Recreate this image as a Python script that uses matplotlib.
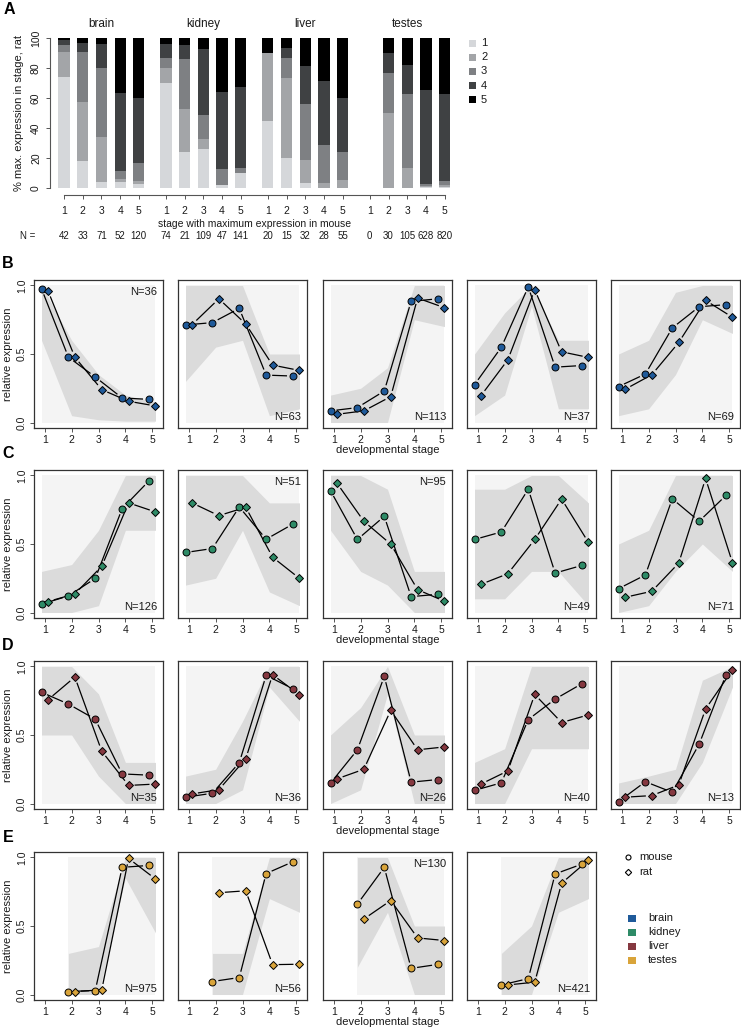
import numpy as np
import matplotlib
matplotlib.use('Agg')
import matplotlib.pyplot as plt
from matplotlib.patches import Rectangle

plt.rcParams['font.family'] = ['Liberation Sans', 'DejaVu Sans']

nan = np.nan

# ── Panel A: % of genes by rat max stage, for each mouse max stage ─────────
tissues = ['brain', 'kidney', 'liver', 'testes']
stage_labels = ['1', '2', '3', '4', '5']
brain_pct = [[73.8, 16.7, 4.7, 3.6, 1.2],
             [18.2, 39.4, 33.3, 6.1, 3.0],
             [4.2, 29.6, 46.5, 15.5, 4.2],
             [3.8, 1.9, 5.8, 51.9, 36.5],
             [2.5, 2.5, 11.7, 43.3, 40.0]]
kidney_pct = [[70.3, 9.5, 6.8, 9.5, 4.1],
              [23.8, 28.6, 33.3, 9.5, 4.8],
              [25.7, 7.3, 15.6, 44.0, 7.3],
              [2.1, 0.0, 10.6, 51.1, 36.2],
              [9.9, 0.0, 3.5, 54.0, 32.6]]
liver_pct = [[45.0, 45.0, 0.0, 0.0, 10.0],
             [20.0, 53.3, 13.3, 6.7, 6.7],
             [3.1, 15.6, 37.5, 25.0, 18.8],
             [0.0, 3.6, 25.0, 42.9, 28.6],
             [0.0, 5.5, 18.2, 36.4, 40.0]]
testes_pct = [[0.0, 0.0, 0.0, 0.0, 0.0],
              [0.0, 50.0, 26.7, 13.3, 10.0],
              [0.0, 13.3, 49.5, 19.0, 18.1],
              [0.5, 1.0, 1.0, 63.1, 34.4],
              [0.6, 1.2, 3.0, 57.8, 37.4]]
bar_n = [42, 33, 71, 52, 120, 74, 21, 109, 47, 141,
         20, 15, 32, 28, 55, 0, 30, 105, 628, 820]

# ── Panels B-E: cluster mean profiles (mouse / rat) ───────────────────────
stages = [1, 2, 3, 4, 5]

brain_mouse = [[0.976, 0.477, 0.332, 0.179, 0.169],
               [0.712, 0.729, 0.833, 0.346, 0.339],
               [0.085, 0.109, 0.230, 0.884, 0.903],
               [0.276, 0.550, 0.990, 0.404, 0.416],
               [0.262, 0.354, 0.690, 0.845, 0.860]]
brain_rat = [[0.961, 0.477, 0.240, 0.155, 0.121],
             [0.714, 0.903, 0.719, 0.419, 0.380],
             [0.060, 0.085, 0.189, 0.908, 0.838],
             [0.196, 0.458, 0.969, 0.516, 0.475],
             [0.242, 0.349, 0.584, 0.891, 0.768]]
brain_n = [36, 63, 113, 37, 69]
brain_npos = ['top', 'bottom', 'bottom', 'bottom', 'bottom']
brain_lo = [[0.60, 0.05, 0.02, 0.01, 0.01], [0.30, 0.55, 0.60, 0.05, 0.10],
            [0.00, 0.00, 0.00, 0.75, 0.70], [0.05, 0.20, 0.85, 0.10, 0.10],
            [0.05, 0.10, 0.35, 0.75, 0.65]]
brain_hi = [[1.00, 0.60, 0.35, 0.20, 0.15], [1.00, 1.00, 1.00, 0.50, 0.50],
            [0.20, 0.25, 0.40, 1.00, 1.00], [0.50, 0.80, 1.00, 0.60, 0.60],
            [0.50, 0.60, 0.95, 1.00, 1.00]]

kidney_mouse = [[0.061, 0.121, 0.249, 0.758, 0.961],
                [0.438, 0.467, 0.770, 0.535, 0.646],
                [0.889, 0.533, 0.702, 0.116, 0.133],
                [0.533, 0.588, 0.900, 0.288, 0.344],
                [0.174, 0.274, 0.830, 0.666, 0.855]]
kidney_rat = [[0.080, 0.136, 0.337, 0.800, 0.734],
              [0.800, 0.707, 0.768, 0.404, 0.249],
              [0.944, 0.666, 0.499, 0.167, 0.082],
              [0.206, 0.283, 0.533, 0.828, 0.511],
              [0.111, 0.155, 0.361, 0.978, 0.363]]
kidney_n = [126, 51, 95, 49, 71]
kidney_npos = ['bottom', 'top', 'top', 'bottom', 'bottom']
kidney_lo = [[0.00, 0.00, 0.05, 0.60, 0.60], [0.20, 0.25, 0.60, 0.15, 0.05],
             [0.60, 0.30, 0.20, 0.00, 0.00], [0.10, 0.10, 0.30, 0.30, 0.05],
             [0.00, 0.05, 0.30, 0.50, 0.30]]
kidney_hi = [[0.30, 0.35, 0.60, 1.00, 1.00], [1.00, 1.00, 1.00, 0.80, 0.80],
             [1.00, 1.00, 0.90, 0.30, 0.30], [0.90, 0.90, 1.00, 1.00, 0.80],
             [0.50, 0.60, 1.00, 1.00, 1.00]]

liver_mouse = [[0.812, 0.726, 0.615, 0.216, 0.207],
               [0.046, 0.075, 0.298, 0.935, 0.837],
               [0.149, 0.392, 0.928, 0.156, 0.175],
               [0.096, 0.151, 0.613, 0.762, 0.875],
               [0.014, 0.159, 0.082, 0.433, 0.940]]
liver_rat = [[0.757, 0.923, 0.382, 0.132, 0.142],
             [0.070, 0.101, 0.327, 0.940, 0.793],
             [0.180, 0.250, 0.680, 0.392, 0.413],
             [0.142, 0.238, 0.796, 0.591, 0.647],
             [0.046, 0.058, 0.135, 0.690, 0.975]]
liver_n = [35, 36, 26, 40, 13]
liver_npos = ['bottom'] * 5
liver_lo = [[0.50, 0.50, 0.20, 0.00, 0.00], [0.00, 0.00, 0.10, 0.85, 0.60],
            [0.00, 0.10, 0.80, 0.00, 0.00], [0.00, 0.00, 0.40, 0.40, 0.40],
            [0.00, 0.00, 0.00, 0.30, 0.85]]
liver_hi = [[1.00, 1.00, 0.80, 0.30, 0.30], [0.20, 0.25, 0.60, 1.00, 1.00],
            [0.50, 0.70, 1.00, 0.50, 0.50], [0.30, 0.40, 1.00, 1.00, 1.00],
            [0.15, 0.20, 0.25, 0.90, 1.00]]

testes_mouse = [[nan, 0.022, 0.029, 0.928, 0.942],
                [nan, 0.095, 0.124, 0.883, 0.969],
                [nan, 0.660, 0.928, 0.191, 0.220],
                [nan, 0.070, 0.116, 0.880, 0.952]]
testes_rat = [[nan, 0.022, 0.034, 0.993, 0.843],
              [nan, 0.743, 0.757, 0.218, 0.221],
              [nan, 0.551, 0.686, 0.413, 0.394],
              [nan, 0.070, 0.090, 0.812, 0.981]]
testes_n = [975, 56, 130, 421]
testes_npos = ['bottom', 'bottom', 'top', 'bottom']
testes_lo = [[nan, 0.00, 0.00, 0.85, 0.45], [nan, 0.00, 0.00, 0.70, 0.60],
             [nan, 0.20, 0.60, 0.00, 0.00], [nan, 0.00, 0.00, 0.60, 0.70]]
testes_hi = [[nan, 0.30, 0.35, 1.00, 1.00], [nan, 0.30, 0.30, 1.00, 1.00],
             [nan, 1.00, 1.00, 0.50, 0.50], [nan, 0.30, 0.50, 1.00, 1.00]]

# ── Styling ──────────────────────────────────────────────────────────────
STAGE_COLORS = ['#D5D7DA', '#A3A5A8', '#7E8083', '#3F4143', '#000000']
TISSUE_COLORS = {'brain': '#1F5A9A', 'kidney': '#2E8B67',
                 'liver': '#853840', 'testes': '#D9A43A'}
TXT = '#1a1a1a'
AX = '#333333'

W, H = 741, 1031
fig = plt.figure(figsize=(W / 100, H / 100), dpi=100, facecolor='white')


def px_axes(x0, y0, x1, y1):
    return fig.add_axes([x0 / W, 1 - y1 / H, (x1 - x0) / W, (y1 - y0) / H])


# ── Panel A ──────────────────────────────────────────────────────────────
axA = px_axes(50, 38, 462, 188)
group_step = 5.45
xpos = np.array([g * group_step + s for g in range(4) for s in range(5)])
pct = np.array(brain_pct + kidney_pct + liver_pct + testes_pct)
bottom = np.zeros(len(xpos))
for k in range(5):
    axA.bar(xpos, pct[:, k], bottom=bottom, width=0.6,
            color=STAGE_COLORS[k], linewidth=0)
    bottom += pct[:, k]
axA.set_xlim(-0.75, 21.28)
axA.set_ylim(0, 100)
for sp in ['top', 'right']:
    axA.spines[sp].set_visible(False)
axA.spines['left'].set_bounds(0, 100)
axA.spines['bottom'].set_position(('outward', 5))
axA.spines['bottom'].set_bounds(xpos[0], xpos[-1])
for sp in ['left', 'bottom']:
    axA.spines[sp].set_color('#555555')
    axA.spines[sp].set_linewidth(0.8)
axA.set_yticks([0, 20, 40, 60, 80, 100])
axA.set_yticklabels(['0', '20', '40', '60', '80', '100'],
                    rotation=90, va='center')
axA.set_xticks(xpos)
axA.set_xticklabels(stage_labels * 4)
axA.tick_params(length=3, width=0.7, labelsize=7.5, colors='#555555',
                labelcolor=TXT)
axA.tick_params(axis='x', pad=5)
axA.set_ylabel('% max. expression in stage, rat', fontsize=8,
               color=TXT, labelpad=5)
for g, t in enumerate(tissues):
    axA.text(g * group_step + 2, 1.093, t, transform=axA.get_xaxis_transform(),
             ha='center', va='center', fontsize=8.5, color=TXT)
axA.text(xpos.mean(), -0.24, 'stage with maximum expression in mouse',
         transform=axA.get_xaxis_transform(), ha='center', va='center',
         fontsize=7.5, color=TXT)
for x, n in zip(xpos, bar_n):
    axA.text(x, -0.32, str(n), transform=axA.get_xaxis_transform(),
             ha='center', va='center', fontsize=7, color=TXT)
fig.text(28 / W, 1 - 236 / H, 'N =', ha='center', va='center',
         fontsize=7, color=TXT)

# ── Overlay (legends, letters) in pixel coordinates ──────────────────────
ov = fig.add_axes([0, 0, 1, 1], zorder=10)
ov.set_xlim(0, W)
ov.set_ylim(H, 0)
ov.axis('off')

for k, lab in enumerate(stage_labels):
    yy = 43 + k * 14.2
    ov.add_patch(Rectangle((468.5, yy - 3.5), 7, 7, facecolor=STAGE_COLORS[k],
                           edgecolor='none'))
    ov.text(481, yy, lab, ha='left', va='center', fontsize=8, color=TXT)

for letter, (lx, ly) in zip('ABCDE', [(9, 9), (8, 263), (8, 454),
                                      (8, 646), (8, 837)]):
    ov.text(lx, ly, letter, ha='center', va='center', fontsize=11.5,
            fontweight='bold', color='black')


# ── Profile panels ───────────────────────────────────────────────────────
def gapped_line(ax, xs, ys, gap=6.0):
    pts = ax.transData.transform(np.column_stack([xs, ys]))
    inv = ax.transData.inverted()
    for p1, p2 in zip(pts[:-1], pts[1:]):
        if np.isnan(p1).any() or np.isnan(p2).any():
            continue
        d = p2 - p1
        L = np.hypot(*d)
        if L <= 2 * gap:
            continue
        a = inv.transform(p1 + d / L * gap)
        b = inv.transform(p2 - d / L * gap)
        ax.plot([a[0], b[0]], [a[1], b[1]], color='black', lw=0.9,
                solid_capstyle='butt', zorder=3)


rows = [
    ('brain', brain_mouse, brain_rat, brain_n, brain_npos, brain_lo, brain_hi),
    ('kidney', kidney_mouse, kidney_rat, kidney_n, kidney_npos, kidney_lo, kidney_hi),
    ('liver', liver_mouse, liver_rat, liver_n, liver_npos, liver_lo, liver_hi),
    ('testes', testes_mouse, testes_rat, testes_n, testes_npos, testes_lo, testes_hi),
]
col_x = [34, 178, 323, 467, 611]
row_y = [280, 470, 661, 852]
pw, ph = 129, 148
off = 0.12
st = np.array(stages, dtype=float)

for r, (tissue, mouse, rat, ns, npos, lo, hi) in enumerate(rows):
    color = TISSUE_COLORS[tissue]
    for c in range(len(mouse)):
        x0, y0 = col_x[c], row_y[r]
        ax = px_axes(x0, y0, x0 + pw, y0 + ph)
        ax.set_xlim(0.6, 5.4)
        ax.set_ylim(-0.04, 1.04)

        lo_c = np.array(lo[c])
        hi_c = np.array(hi[c])
        valid = ~np.isnan(lo_c)
        xb = st[valid].copy()
        xb[0] -= off
        xb[-1] += off
        ax.fill_between(xb, 0, 1, color='#F4F4F4', lw=0, zorder=1)
        ax.fill_between(xb, lo_c[valid], hi_c[valid], color='#DBDBDB',
                        lw=0, zorder=2)

        m = np.array(mouse[c])
        rt = np.array(rat[c])
        gapped_line(ax, st - off, m)
        gapped_line(ax, st + off, rt)
        ax.plot(st - off, m, 'o', ms=5.0, mfc=color, mec='black',
                mew=0.7, zorder=4, clip_on=False)
        ax.plot(st + off, rt, 'D', ms=4.4, mfc=color, mec='black',
                mew=0.7, zorder=4, clip_on=False)

        ny = 0.92 if npos[c] == 'top' else 0.076
        ax.text(0.955, ny, f'N={ns[c]}', transform=ax.transAxes,
                ha='right', va='center', fontsize=8, color=TXT, zorder=5)

        ax.set_xticks(stages)
        ax.set_xticklabels([str(s) for s in stages])
        if c == 0:
            ax.set_yticks([0, 0.5, 1.0])
            ax.set_yticklabels(['0.0', '0.5', '1.0'], rotation=90, va='center')
            ax.set_ylabel('relative expression', fontsize=8, color=TXT,
                          labelpad=3)
        else:
            ax.set_yticks([])
        if c == 2:
            ax.set_xlabel('developmental stage', fontsize=8, color=TXT,
                          labelpad=0)
        ax.tick_params(length=3, width=0.7, labelsize=7.5, colors='#555555',
                       labelcolor=TXT, pad=2)
        for sp in ax.spines.values():
            sp.set_color(AX)
            sp.set_linewidth(0.9)

# species + tissue legend (bottom right)
ov.plot([628], [857], 'o', ms=3.6, mfc='white', mec='black', mew=0.8)
ov.text(639, 857, 'mouse', ha='left', va='center', fontsize=8, color=TXT)
ov.plot([628], [872], 'D', ms=3.2, mfc='white', mec='black', mew=0.8)
ov.text(639, 872, 'rat', ha='left', va='center', fontsize=8, color=TXT)
for k, t in enumerate(tissues):
    yy = 918 + k * 14
    ov.add_patch(Rectangle((628, yy - 3.5), 8, 7,
                           facecolor=TISSUE_COLORS[t], edgecolor='none'))
    ov.text(648, yy, t, ha='left', va='center', fontsize=8, color=TXT)

fig.savefig('out.png', dpi=100, facecolor='white')
